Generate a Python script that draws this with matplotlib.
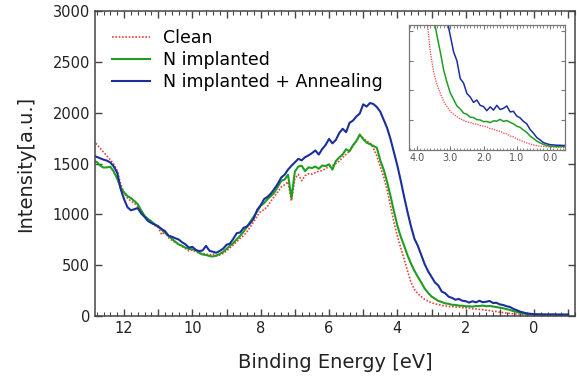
import numpy as np
import matplotlib
matplotlib.use("Agg")
import matplotlib.pyplot as plt
from matplotlib.ticker import MultipleLocator, FuncFormatter

# binding energy grid (eV), 12.9 -> -1.0 in 0.1 steps
energy = np.round(np.arange(12.9, -1.05, -0.1), 1)

clean = [
    1720, 1690, 1650, 1612, 1575, 1535, 1495, 1430, 1300, 1210,
    1160, 1130, 1110, 1080, 1020, 980, 950, 915, 890, 870,
    800, 830, 770, 745, 725, 705, 685, 662, 640, 650,
    630, 620, 615, 610, 600, 612, 590, 600, 615, 640,
    670, 700, 730, 765, 790, 830, 880, 930, 985, 1030,
    1046, 1080, 1130, 1178, 1220, 1270, 1290, 1320, 1130, 1350,
    1392, 1330, 1380, 1400, 1395, 1410, 1425, 1430, 1450, 1470,
    1480, 1500, 1523, 1560, 1590, 1620, 1670, 1720, 1770, 1750,
    1720, 1705, 1650, 1575, 1470, 1370, 1240, 1080, 920, 790,
    670, 560, 440, 330, 262, 220, 190, 164, 146, 130,
    120, 112, 104, 100, 94, 93, 88, 87, 82, 80,
    78, 72, 70, 65, 63, 57, 54, 47, 44, 37,
    33, 28, 24, 20, 17, 15, 13, 12, 11, 10,
    10, 9, 10, 9, 9, 10, 9, 9, 9, 9,
]

n_impl = [
    1530, 1515, 1480, 1460, 1462, 1468, 1420, 1350, 1265, 1215,
    1180, 1160, 1132, 1100, 1040, 985, 955, 930, 900, 880,
    850, 818, 790, 760, 730, 705, 690, 672, 660, 655,
    650, 620, 605, 600, 590, 585, 595, 610, 630, 660,
    690, 718, 755, 790, 830, 880, 930, 980, 1030, 1085,
    1110, 1150, 1180, 1215, 1270, 1330, 1342, 1390, 1160, 1420,
    1470, 1478, 1425, 1462, 1455, 1470, 1448, 1480, 1475, 1492,
    1440, 1525, 1560, 1590, 1640, 1620, 1680, 1720, 1785, 1740,
    1705, 1690, 1672, 1655, 1530, 1440, 1320, 1180, 1030, 890,
    780, 690, 595, 515, 445, 385, 330, 270, 228, 192,
    170, 148, 138, 124, 120, 110, 109, 102, 101, 95,
    96, 92, 98, 97, 103, 96, 99, 93, 88, 80,
    76, 67, 59, 47, 39, 30, 24, 19, 15, 13,
    12, 12, 11, 12, 11, 11, 12, 11, 11, 11,
]

n_anneal = [
    1580, 1565, 1552, 1538, 1528, 1510, 1470, 1410, 1250, 1150,
    1070, 1040, 1050, 1062, 1010, 975, 935, 915, 900, 882,
    855, 835, 790, 780, 765, 752, 725, 705, 672, 680,
    650, 638, 645, 690, 642, 632, 622, 640, 662, 700,
    712, 760, 815, 822, 868, 880, 915, 962, 1045, 1090,
    1150, 1172, 1205, 1250, 1300, 1362, 1390, 1440, 1478, 1512,
    1545, 1532, 1562, 1580, 1602, 1628, 1588, 1642, 1682, 1742,
    1698, 1732, 1800, 1842, 1808, 1900, 1922, 1962, 1992, 2082,
    2060, 2095, 2085, 2055, 2010, 1930, 1850, 1740, 1610, 1480,
    1330, 1170, 1020, 880, 760, 690, 600, 510, 440, 385,
    330, 300, 240, 225, 190, 178, 160, 168, 150, 146,
    132, 145, 134, 150, 136, 140, 148, 128, 130, 114,
    108, 96, 88, 69, 57, 42, 34, 25, 21, 18,
    17, 16, 16, 15, 16, 15, 15, 14, 15, 15,
]

labels = ["Clean", "N implanted", "N implanted + Annealing"]
colors = ["#e8413b", "#1f9e1f", "#1b2f9c"]

fig = plt.figure(figsize=(5.77, 3.78), dpi=100)
ax = fig.add_axes([95/577, 62/378, 480/577, 305/378])

ax.plot(energy, clean, color=colors[0], lw=1.2, ls=(0, (1, 1)), label=labels[0])
ax.plot(energy, n_impl, color=colors[1], lw=1.5, label=labels[1])
ax.plot(energy, n_anneal, color=colors[2], lw=1.5, label=labels[2])

ax.set_xlim(12.85, -1.2)
ax.set_ylim(0, 3000)
ax.xaxis.set_major_locator(MultipleLocator(1))
ax.xaxis.set_minor_locator(MultipleLocator(0.2))
ax.xaxis.set_major_formatter(FuncFormatter(lambda v, p: f"{v:.0f}" if round(v) % 2 == 0 else ""))
ax.yaxis.set_major_locator(MultipleLocator(500))
ax.tick_params(which="both", direction="in", top=True, right=True, colors="#444",
               labelcolor="#222", labelsize=10.5)
ax.tick_params(which="major", length=5, width=1)
ax.tick_params(which="minor", length=3, width=0.8)
for s in ax.spines.values():
    s.set_color("#444")
    s.set_linewidth(1.1)

ax.set_xlabel("Binding Energy [eV]", fontsize=14, color="#222")
ax.set_ylabel("Intensity[a.u.]", fontsize=14, color="#222")
ax.xaxis.set_label_coords(0.5, -0.12)
ax.yaxis.set_label_coords(-0.125, 0.5)

ax.legend(loc="upper left", frameon=False, fontsize=12.5, handlelength=2.2,
          handletextpad=0.75, labelspacing=0.22, borderaxespad=0.3,
          bbox_to_anchor=(0.01, 0.98))

# inset: valence band edge region
ins = fig.add_axes([409/577, 228/378, 156/577, 125/378])
ins.plot(energy, clean, color=colors[0], lw=0.9, ls=(0, (1, 1)))
ins.plot(energy, n_impl, color=colors[1], lw=1.1)
ins.plot(energy, n_anneal, color=colors[2], lw=1.1)
ins.set_xlim(4.24, -0.45)
ins.set_ylim(0, 420)
ins.xaxis.set_major_locator(MultipleLocator(1))
ins.xaxis.set_minor_locator(MultipleLocator(0.1))
ins.xaxis.set_major_formatter(FuncFormatter(lambda v, p: f"{v:.1f}"))
ins.yaxis.set_major_locator(MultipleLocator(100))
ins.set_yticklabels([])
ins.tick_params(which="both", direction="in", top=True, right=True, colors="#777",
                labelcolor="#555", labelsize=7, pad=2)
ins.tick_params(which="major", length=3, width=0.8)
ins.tick_params(which="minor", length=1.8, width=0.6)
for s in ins.spines.values():
    s.set_color("#777")
    s.set_linewidth(0.9)

fig.savefig("out.png", dpi=100)
